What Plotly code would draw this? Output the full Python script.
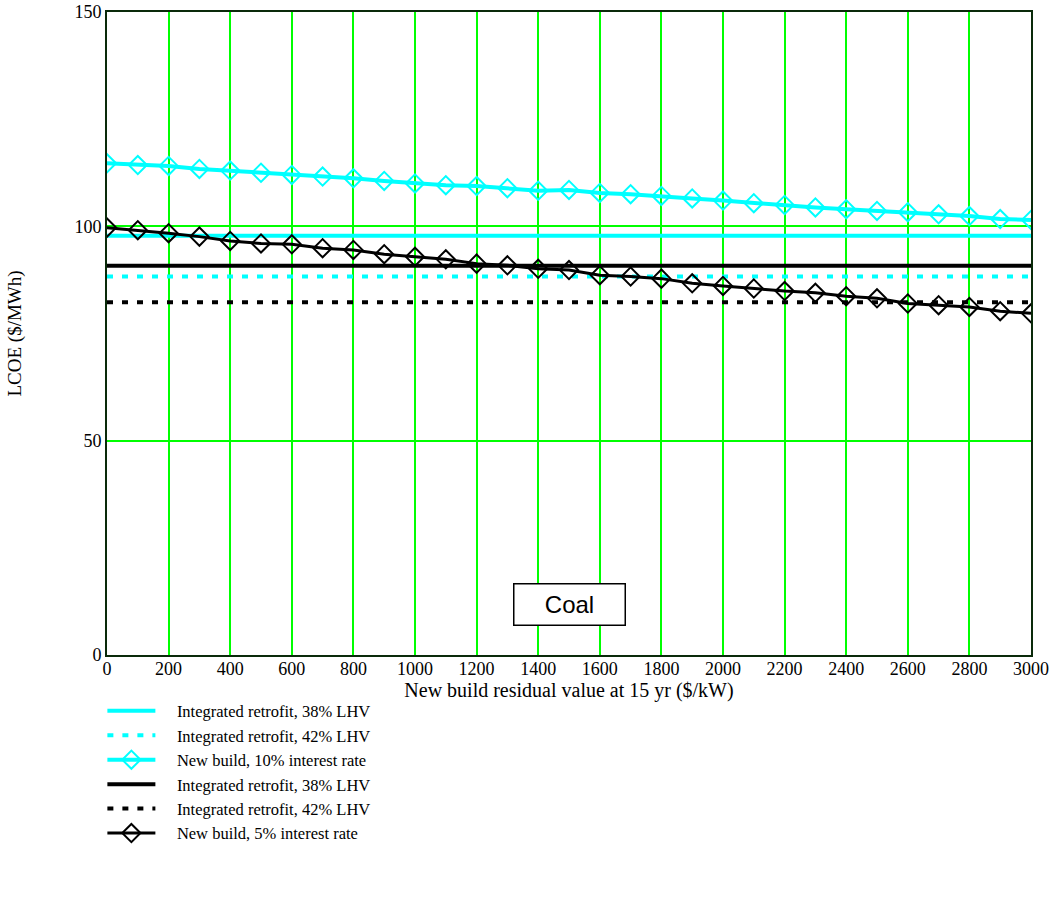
import plotly.graph_objects as go

# Residual value of the new build plant at year 15 ($/kW)
residual_value = list(range(0, 3001, 100))

# LCOE of a new build plant, 10% interest rate ($/MWh)
new_build_10pct = [114.7, 114.3, 114.1, 113.4, 113.0, 112.5, 112.0, 111.6, 111.2, 110.6,
                   110.0, 109.6, 109.4, 108.9, 108.3, 108.5, 107.8, 107.5, 107.1, 106.5,
                   106.0, 105.4, 105.0, 104.4, 104.0, 103.6, 103.3, 102.8, 102.4, 101.7,
                   101.5]

# LCOE of a new build plant, 5% interest rate ($/MWh)
new_build_5pct = [99.7, 99.1, 98.4, 97.6, 96.6, 96.0, 95.8, 94.9, 94.5, 93.5,
                  92.9, 92.3, 91.3, 90.9, 90.1, 89.8, 88.6, 88.3, 87.8, 86.7,
                  86.1, 85.5, 84.9, 84.5, 83.7, 83.2, 82.0, 81.6, 81.2, 80.2,
                  79.7]

# Integrated retrofit LCOE, independent of residual value ($/MWh)
retrofit_38_10pct = 97.8
retrofit_42_10pct = 88.3
retrofit_38_5pct = 90.8
retrofit_42_5pct = 82.3

x_span = [residual_value[0], residual_value[-1]]

CYAN = "#00FFFF"
BLACK = "#000000"
GRID = "#00FF00"
SERIF = "Liberation Serif, Times New Roman, serif"
DASHES = "6px,9px"
GAP = "\u00a0" * 4  # space between legend sample and its label

fig = go.Figure()

fig.add_trace(go.Scatter(
    x=x_span, y=[retrofit_38_10pct] * 2, mode="lines",
    line=dict(color=CYAN, width=4),
    name=GAP + "Integrated retrofit, 38% LHV"))
fig.add_trace(go.Scatter(
    x=x_span, y=[retrofit_42_10pct] * 2, mode="lines",
    line=dict(color=CYAN, width=4, dash=DASHES),
    name=GAP + "Integrated retrofit, 42% LHV"))
fig.add_trace(go.Scatter(
    x=residual_value, y=new_build_10pct, mode="lines+markers",
    line=dict(color=CYAN, width=4),
    marker=dict(symbol="diamond-open", size=14, color=CYAN, line=dict(width=2, color=CYAN)),
    name=GAP + "New build, 10% interest rate"))
fig.add_trace(go.Scatter(
    x=x_span, y=[retrofit_38_5pct] * 2, mode="lines",
    line=dict(color=BLACK, width=4),
    name=GAP + "Integrated retrofit, 38% LHV"))
fig.add_trace(go.Scatter(
    x=x_span, y=[retrofit_42_5pct] * 2, mode="lines",
    line=dict(color=BLACK, width=4, dash=DASHES),
    name=GAP + "Integrated retrofit, 42% LHV"))
fig.add_trace(go.Scatter(
    x=residual_value, y=new_build_5pct, mode="lines+markers",
    line=dict(color=BLACK, width=3),
    marker=dict(symbol="diamond-open", size=14, color=BLACK, line=dict(width=2, color=BLACK)),
    name=GAP + "New build, 5% interest rate"))

fig.add_annotation(
    x=1500, y=11.7, xref="x", yref="y", text="Coal", showarrow=False,
    font=dict(family="Liberation Sans, Arial, sans-serif", size=24, color=BLACK),
    bordercolor=BLACK, borderwidth=1.5, bgcolor="white",
    width=108, height=38, borderpad=1)

fig.update_layout(
    width=1059, height=900,
    margin=dict(l=107, r=28, t=12, b=245, autoexpand=False),
    paper_bgcolor="white", plot_bgcolor="white",
    font=dict(family=SERIF, size=18, color=BLACK),
    showlegend=True,
    legend=dict(
        x=-0.005, y=-0.06, xanchor="left", yanchor="top",
        bgcolor="rgba(0,0,0,0)", font=dict(family=SERIF, size=16.5),
        itemwidth=48, tracegroupgap=0),
)

fig.update_xaxes(
    range=[0, 3000], tickmode="linear", tick0=0, dtick=200,
    showgrid=True, gridcolor=GRID, gridwidth=2,
    showline=True, linecolor="#0a2a0a", linewidth=2, mirror=True,
    zeroline=False, ticks="", ticklen=0, automargin=False,
    ticklabelstandoff=-4,
    title=dict(text="New build residual value at 15 yr ($/kW)", standoff=0,
               font=dict(family=SERIF, size=20)),
    tickfont=dict(family=SERIF, size=18))

fig.update_yaxes(
    range=[0, 150], tickmode="linear", tick0=0, dtick=50,
    showgrid=True, gridcolor=GRID, gridwidth=2,
    showline=True, linecolor="#0a2a0a", linewidth=2, mirror=True,
    zeroline=False, ticks="", ticklen=0, automargin=False,
    title=dict(text="LCOE ($/MWh)", standoff=48,
               font=dict(family=SERIF, size=19)),
    tickfont=dict(family=SERIF, size=18))

fig.write_html("out.html")
